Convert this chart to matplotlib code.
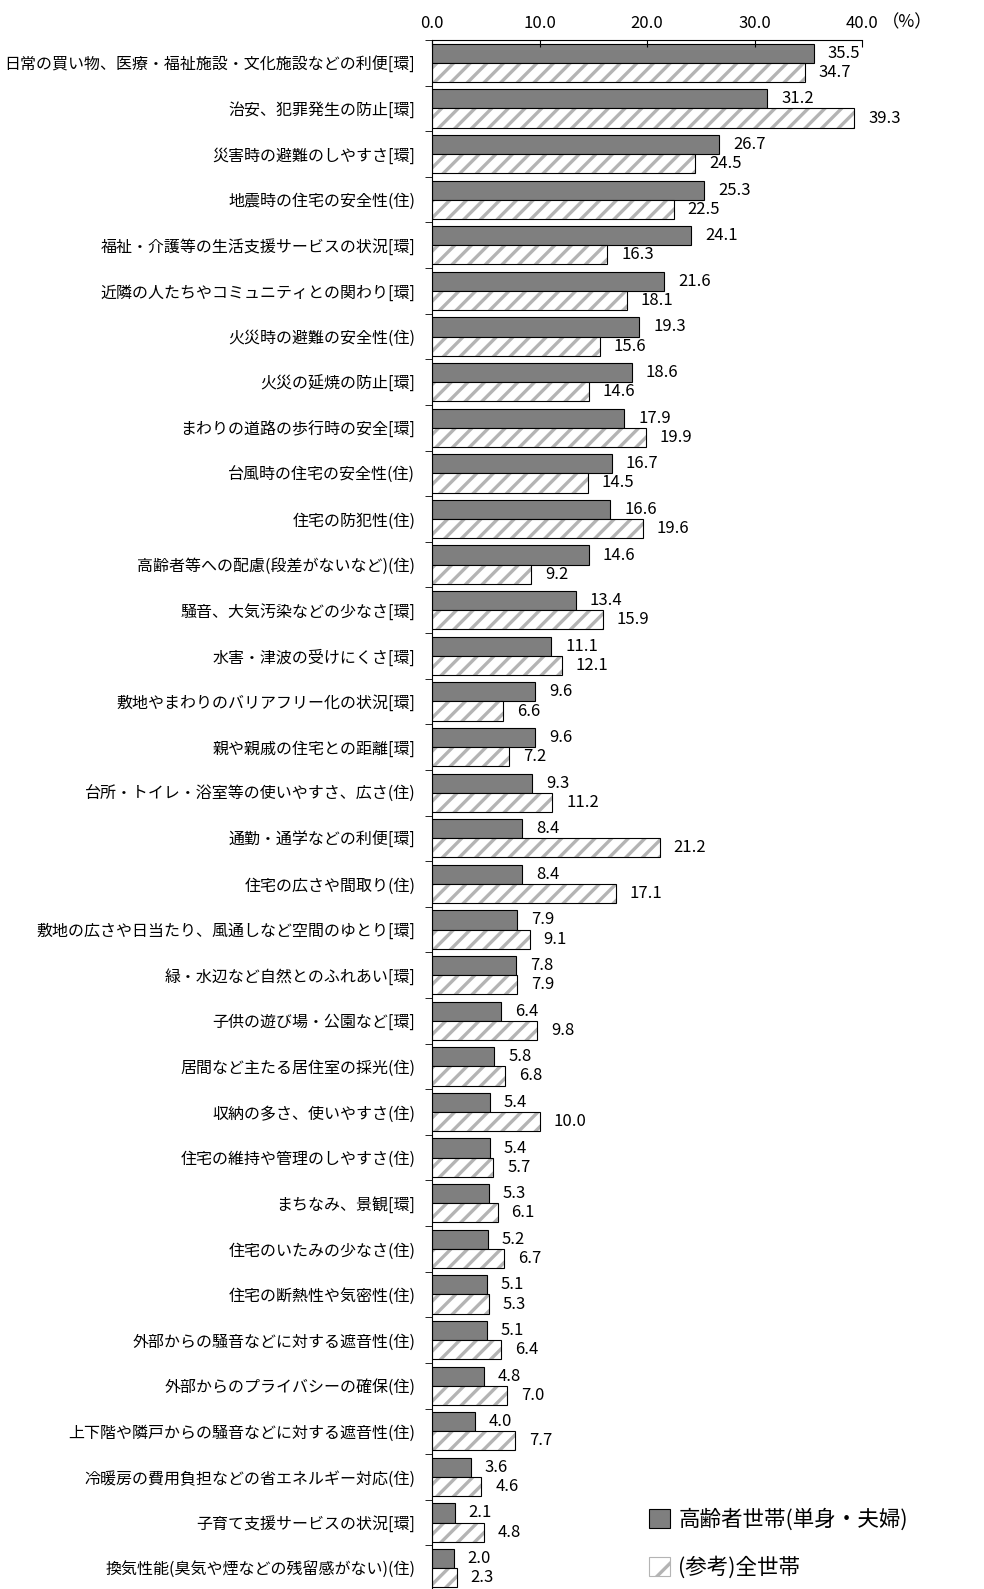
import numpy as np
import matplotlib.pyplot as plt
from matplotlib.patches import Patch

plt.rcParams['font.family'] = ['Noto Sans CJK JP', 'DejaVu Sans']
plt.rcParams['hatch.color'] = '#b4b4b4'
plt.rcParams['hatch.linewidth'] = 2.4

items = ['日常の買い物、医療・福祉施設・文化施設などの利便[環]',
         '治安、犯罪発生の防止[環]',
         '災害時の避難のしやすさ[環]',
         '地震時の住宅の安全性(住)',
         '福祉・介護等の生活支援サービスの状況[環]',
         '近隣の人たちやコミュニティとの関わり[環]',
         '火災時の避難の安全性(住)',
         '火災の延焼の防止[環]',
         'まわりの道路の歩行時の安全[環]',
         '台風時の住宅の安全性(住)',
         '住宅の防犯性(住)',
         '高齢者等への配慮(段差がないなど)(住)',
         '騒音、大気汚染などの少なさ[環]',
         '水害・津波の受けにくさ[環]',
         '敷地やまわりのバリアフリー化の状況[環]',
         '親や親戚の住宅との距離[環]',
         '台所・トイレ・浴室等の使いやすさ、広さ(住)',
         '通勤・通学などの利便[環]',
         '住宅の広さや間取り(住)',
         '敷地の広さや日当たり、風通しなど空間のゆとり[環]',
         '緑・水辺など自然とのふれあい[環]',
         '子供の遊び場・公園など[環]',
         '居間など主たる居住室の採光(住)',
         '収納の多さ、使いやすさ(住)',
         '住宅の維持や管理のしやすさ(住)',
         'まちなみ、景観[環]',
         '住宅のいたみの少なさ(住)',
         '住宅の断熱性や気密性(住)',
         '外部からの騒音などに対する遮音性(住)',
         '外部からのプライバシーの確保(住)',
         '上下階や隣戸からの騒音などに対する遮音性(住)',
         '冷暖房の費用負担などの省エネルギー対応(住)',
         '子育て支援サービスの状況[環]',
         '換気性能(臭気や煙などの残留感がない)(住)']

elderly = [35.5, 31.2, 26.7, 25.3, 24.1, 21.6, 19.3, 18.6, 17.9, 16.7, 16.6,
           14.6, 13.4, 11.1, 9.6, 9.6, 9.3, 8.4, 8.4, 7.9, 7.8, 6.4, 5.8,
           5.4, 5.4, 5.3, 5.2, 5.1, 5.1, 4.8, 4.0, 3.6, 2.1, 2.0]
allhh = [34.7, 39.3, 24.5, 22.5, 16.3, 18.1, 15.6, 14.6, 19.9, 14.5, 19.6,
         9.2, 15.9, 12.1, 6.6, 7.2, 11.2, 21.2, 17.1, 9.1, 7.9, 9.8, 6.8,
         10.0, 5.7, 6.1, 6.7, 5.3, 6.4, 7.0, 7.7, 4.6, 4.8, 2.3]

legend_labels = ['高齢者世帯(単身・夫婦)', '(参考)全世帯']

fig = plt.figure(figsize=(9.84, 15.89), dpi=100)
ax = fig.add_axes([432/984, 1 - 1591/1589, 430/984, 1551/1589])

y = np.arange(len(items))
h = 0.42

ax.barh(y - h/2, elderly, height=h, color='#7f7f7f', edgecolor='black', linewidth=0.8)
ax.barh(y + h/2, allhh, height=h, color='white', hatch='//', linewidth=0)
ax.barh(y + h/2, allhh, height=h, fill=False, edgecolor='black', linewidth=0.8)

for i in range(len(items)):
    ax.annotate(f'{elderly[i]:.1f}', (elderly[i], y[i] - h/2), xytext=(10, 0),
                textcoords='offset points', ha='left', va='center', fontsize=12)
    ax.annotate(f'{allhh[i]:.1f}', (allhh[i], y[i] + h/2), xytext=(10, 0),
                textcoords='offset points', ha='left', va='center', fontsize=12)

ax.set_xlim(0, 40)
ax.set_ylim(len(items) - 0.5, -0.5)
ax.xaxis.tick_top()
ax.set_xticks([0, 10, 20, 30, 40])
ax.set_xticklabels(['0.0', '10.0', '20.0', '30.0', '40.0'], fontsize=12)
ax.tick_params(axis='x', direction='in', length=5, pad=6)
ax.annotate('（%）', (40, 1.0), xycoords=('data', 'axes fraction'), xytext=(14, 6),
            textcoords='offset points', fontsize=12.5, va='bottom', ha='left')

ax.set_yticks(y)
ax.set_yticklabels(items, fontsize=11.5)
ax.tick_params(axis='y', length=0, pad=12)
ax.set_yticks(np.arange(len(items) + 1) - 0.5, minor=True)
ax.tick_params(axis='y', which='minor', length=5, direction='out')

for s in ['right', 'bottom']:
    ax.spines[s].set_visible(False)
ax.spines['top'].set_linewidth(0.8)
ax.spines['left'].set_linewidth(0.8)

handles = [Patch(facecolor='#7f7f7f', edgecolor='black', linewidth=0.8),
           Patch(facecolor='white', edgecolor='#b4b4b4', hatch='/', linewidth=0.8)]
fig.legend(handles, legend_labels, loc='lower left', bbox_to_anchor=(0.64, -0.006),
           frameon=False, fontsize=15.5, handlelength=0.95, handleheight=0.95,
           labelspacing=1.2, handletextpad=0.4)

fig.savefig('out.png', dpi=100)
